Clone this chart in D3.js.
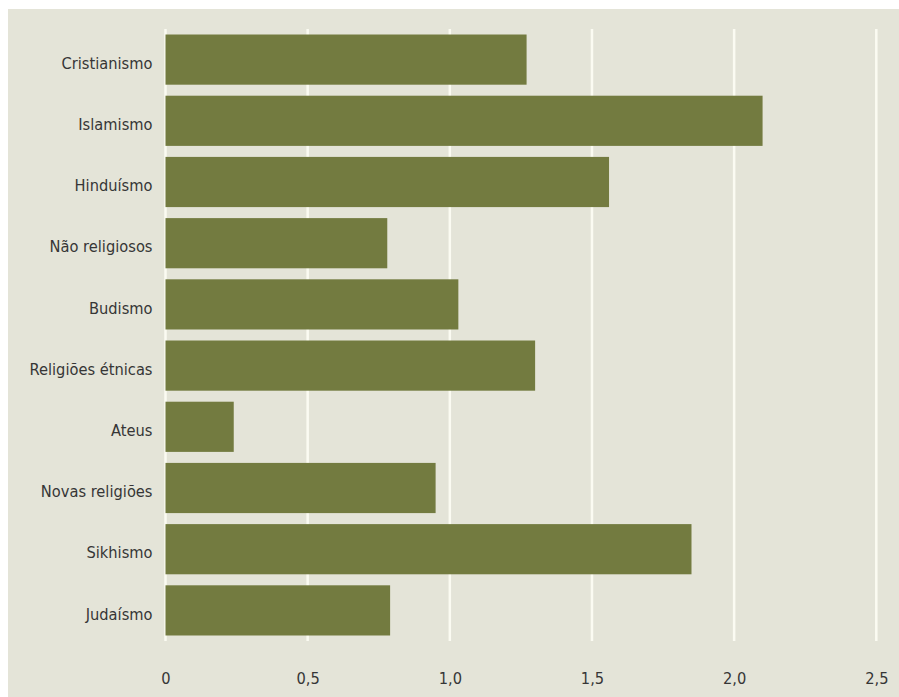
<!DOCTYPE html>
<html><head><meta charset="utf-8">
<script src="https://cdn.jsdelivr.net/npm/d3@7"></script>
<style>
html,body{margin:0;padding:0;background:#ffffff;}
svg{display:block;}
text{font-family:"DejaVu Sans Condensed","Liberation Sans Narrow",sans-serif;fill:#363636;}
</style></head><body>
<svg id="c" width="899" height="697"></svg>
<script>
const categories = ["Cristianismo","Islamismo","Hinduísmo","Não religiosos","Budismo","Religiões étnicas","Ateus","Novas religiões","Sikhismo","Judaísmo"];
const values = [1.27, 2.10, 1.56, 0.78, 1.03, 1.30, 0.24, 0.95, 1.85, 0.79];
const tickValues = [0, 0.5, 1.0, 1.5, 2.0, 2.5];
const tickLabels = ["0", "0,5", "1,0", "1,5", "2,0", "2,5"];

const W = 899, H = 697;
const svg = d3.select("#c");
svg.append("rect").attr("x", 8).attr("y", 9).attr("width", W - 8).attr("height", H - 9).attr("fill", "#e4e4d8");

const x = d3.scaleLinear().domain([0, 2.5]).range([165.5, 876.3]);
const y = d3.scaleBand().domain(categories).range([29, 641]).paddingInner(0.18).paddingOuter(0.09);

// gridlines
svg.append("g").selectAll("line").data(tickValues).join("line")
  .attr("x1", d => x(d)).attr("x2", d => x(d))
  .attr("y1", 29).attr("y2", 641)
  .attr("stroke", "#fbfbf2").attr("stroke-width", 2.5);

// bars
svg.append("g").selectAll("rect").data(categories).join("rect")
  .attr("x", x(0)).attr("y", d => y(d))
  .attr("width", (d, i) => x(values[i]) - x(0))
  .attr("height", y.bandwidth())
  .attr("fill", "#737b40");

// y axis labels
const yAxis = d3.axisLeft(y).tickSize(0).tickPadding(13);
const gy = svg.append("g").attr("transform", `translate(${x(0)},4)`).call(yAxis);
gy.select(".domain").remove();
gy.selectAll("text").attr("font-size", 16.3).attr("font-family", null).attr("fill", "#363636");

// x axis labels
const xAxis = d3.axisBottom(x).tickValues(tickValues).tickFormat((d, i) => tickLabels[i]).tickSize(0).tickPadding(0);
const gx = svg.append("g").attr("transform", `translate(0,672)`).call(xAxis);
gx.select(".domain").remove();
gx.selectAll("text").attr("font-size", 16.3).attr("font-family", null).attr("fill", "#363636");
</script>
</body></html>
